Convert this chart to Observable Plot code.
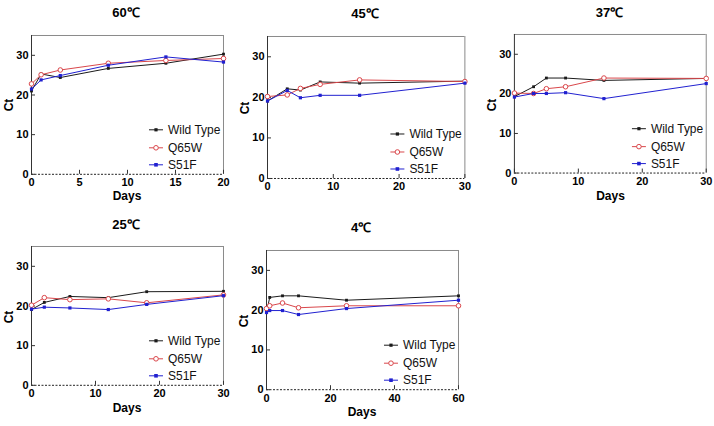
<!DOCTYPE html>
<html>
<head>
<meta charset="utf-8">
<script src="https://cdn.jsdelivr.net/npm/d3@7"></script>
<script src="https://cdn.jsdelivr.net/npm/@observablehq/plot@0.6"></script>
<style>
  html, body { margin: 0; padding: 0; background: #fff; }
  #chart { position: relative; width: 714px; height: 426px; overflow: hidden;
           font-family: "Liberation Sans", Arial, sans-serif; color: #000; }
  .panel { position: absolute; }
  .lbl { position: absolute; transform: translate(-50%, -50%); white-space: nowrap;
         font-weight: bold; }
  .title { font-size: 13px; }
  .axlbl { font-size: 12px; }
  .rot { transform: translate(-50%, -50%) rotate(-90deg); }
</style>
</head>
<body>
<div id="chart"></div>
<script>
// Ct over storage time for three strains at five temperatures
const series = ["Wild Type", "Q65W", "S51F"];

const days60 = [0, 1, 3, 8, 14, 20];
const wt60 = [21.0, 25.3, 24.4, 26.7, 28.0, 30.3];
const q60  = [22.8, 25.1, 26.3, 28.0, 28.7, 29.2];
const s60  = [21.5, 23.8, 24.9, 27.5, 29.6, 28.3];

const days45 = [0, 3, 5, 8, 14, 30];
const wt45 = [19.1, 22.1, 21.8, 23.8, 23.5, 24.0];
const q45  = [20.2, 20.6, 22.2, 23.2, 24.3, 23.9];
const s45  = [19.1, 21.7, 19.9, 20.5, 20.5, 23.5];

const days37 = [0, 3, 5, 8, 14, 30];
const wt37 = [19.3, 21.8, 24.0, 24.0, 23.4, 23.9];
const q37  = [20.2, 20.1, 21.3, 21.8, 24.0, 23.9];
const s37  = [19.2, 20.1, 20.1, 20.3, 18.8, 22.6];

const days25 = [0, 2, 6, 12, 18, 30];
const wt25 = [19.1, 20.9, 22.4, 22.1, 23.6, 23.7];
const q25  = [20.2, 22.1, 21.6, 21.8, 20.8, 22.8];
const s25  = [19.2, 19.7, 19.5, 19.1, 20.4, 22.6];

const days4 = [0, 1, 5, 10, 25, 60];
const wt4 = [19.4, 23.2, 23.6, 23.6, 22.5, 23.6];
const q4  = [20.4, 21.1, 21.8, 20.6, 21.1, 21.1];
const s4  = [19.4, 19.9, 19.9, 18.9, 20.4, 22.5];

const yTicks = [0, 10, 20, 30];
const xTicks60 = [0, 5, 10, 15, 20];
const xTicks30 = [0, 10, 20, 30];
const xTicks4 = [0, 20, 40, 60];
const yMax = 35;

// styling per strain
const styles = {
  "Wild Type": { color: "#1a1a1a", symbol: "square", fill: "#1a1a1a", r: 1.6 },
  "Q65W":      { color: "#d9464a", symbol: "circle", fill: "#fff",    r: 2.3 },
  "S51F":      { color: "#2020d0", symbol: "square", fill: "#2020d0", r: 1.8 }
};

// frame box of each panel on the page: left, right, top (y=35), bottom (y=0)
const panels = [
  { title: "60℃", days: days60, vals: [wt60, q60, s60], xTicks: xTicks60,
    box: [31, 223, 34.5, 173.3], titleY: 12, daysLabel: true },
  { title: "45℃", days: days45, vals: [wt45, q45, s45], xTicks: xTicks30,
    box: [267.3, 464.7, 35.7, 177.7], titleY: 13, daysLabel: false },
  { title: "37℃", days: days37, vals: [wt37, q37, s37], xTicks: xTicks30,
    box: [514.3, 706.7, 34.3, 173.3], titleY: 12, daysLabel: true },
  { title: "25℃", days: days25, vals: [wt25, q25, s25], xTicks: xTicks30,
    box: [31, 223, 246.2, 385], titleY: 224, daysLabel: true },
  { title: "4℃", days: days4, vals: [wt4, q4, s4], xTicks: xTicks4,
    box: [266, 458, 250.1, 389.3], titleY: 227, daysLabel: true }
];

const chart = document.getElementById("chart");
const mL = 30, mR = 8, mT = 6, mB = 20;
const font = "'Liberation Sans', Arial, sans-serif";

// legend drawn inside the lower-right corner of the frame
function legendMark(index, scales, values, dims) {
  const R = dims.width - dims.marginRight;
  const B = dims.height - dims.marginBottom;
  const g = d3.create("svg:g");
  const rows = [44, 26, 9];
  series.forEach((s, i) => {
    const st = styles[s];
    const y = B - rows[i];
    g.append("line").attr("x1", R - 74).attr("x2", R - 60).attr("y1", y).attr("y2", y)
      .attr("stroke", st.color).attr("stroke-width", 1);
    if (st.symbol === "circle") {
      g.append("circle").attr("cx", R - 67).attr("cy", y).attr("r", st.r)
        .attr("fill", st.fill).attr("stroke", st.color).attr("stroke-width", 1);
    } else {
      g.append("rect").attr("x", R - 67 - st.r).attr("y", y - st.r)
        .attr("width", 2 * st.r).attr("height", 2 * st.r).attr("fill", st.fill);
    }
    g.append("text").attr("x", R - 55).attr("y", y).attr("dy", "0.35em")
      .attr("text-anchor", "start")
      .attr("font-size", 12).attr("font-family", font)
      .attr("fill", "#111").text(s);
  });
  return g.node();
}

panels.forEach(p => {
  const [L, R, T, B] = p.box;
  const w = R - L + mL + mR;
  const h = B - T + mT + mB;
  const xMax = p.days[p.days.length - 1];

  const rows = [];
  series.forEach((s, i) => p.days.forEach((d, j) => rows.push({ series: s, day: d, ct: p.vals[i][j] })));

  const marks = [
    // frame: gray top/right, dark left axis, dashed zero line
    Plot.ruleY([yMax], { stroke: "#8a8a8a", strokeWidth: 1 }),
    Plot.ruleX([xMax], { stroke: "#8a8a8a", strokeWidth: 1 }),
    Plot.ruleX([0], { stroke: "#333", strokeWidth: 1 }),
    Plot.ruleY([0], { stroke: "#222", strokeWidth: 1, strokeDasharray: "2,1.5" }),
    // inward tick marks
    Plot.axisY({ ticks: yTicks, tickSize: -4, text: null, label: null, stroke: "#333" }),
    Plot.axisX({ ticks: p.xTicks, tickSize: -4, text: null, label: null, stroke: "#333" }),
    // tick labels
    Plot.axisY({ ticks: yTicks, tickSize: 0, tickPadding: 3, fontWeight: "bold", fontSize: 11, label: null }),
    Plot.axisX({ ticks: p.xTicks, tickSize: 0, tickPadding: 4, fontWeight: "bold", fontSize: 11, label: null })
  ];
  series.forEach(s => {
    const st = styles[s];
    const data = rows.filter(r => r.series === s);
    marks.push(Plot.line(data, { x: "day", y: "ct", stroke: st.color, strokeWidth: 1 }));
    marks.push(Plot.dot(data, { x: "day", y: "ct", symbol: st.symbol, r: st.r,
      fill: st.fill, stroke: st.symbol === "circle" ? st.color : "none", strokeWidth: 1 }));
  });
  marks.push(legendMark);

  const plot = Plot.plot({
    width: w, height: h,
    marginLeft: mL, marginRight: mR, marginTop: mT, marginBottom: mB,
    x: { domain: [0, xMax] },
    y: { domain: [0, yMax] },
    style: { fontFamily: font, color: "#000", background: "transparent", overflow: "visible" },
    marks
  });
  const div = document.createElement("div");
  div.className = "panel";
  div.style.left = (L - mL) + "px";
  div.style.top = (T - mT) + "px";
  div.appendChild(plot);
  chart.appendChild(div);

  const cx = (L + R) / 2;
  const addLbl = (text, x, y, cls) => {
    const el = document.createElement("div");
    el.className = "lbl " + cls;
    el.style.left = x + "px";
    el.style.top = y + "px";
    el.textContent = text;
    chart.appendChild(el);
  };
  addLbl(p.title, cx - 1, p.titleY, "title");
  addLbl("Ct", L - 22, (T + B) / 2 + 1, "axlbl rot");
  if (p.daysLabel) addLbl("Days", cx, B + 23, "axlbl");
});
</script>
</body>
</html>
